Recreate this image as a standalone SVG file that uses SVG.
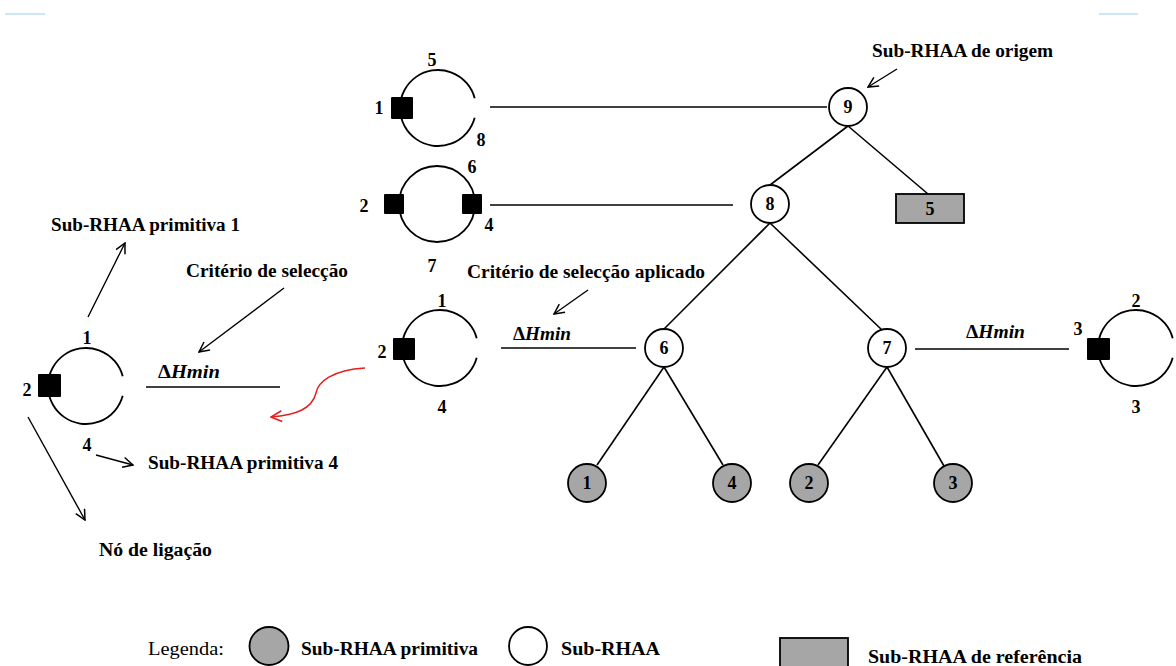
<svg xmlns="http://www.w3.org/2000/svg" width="1176" height="666" viewBox="0 0 1176 666">
  <style>
    .t { font-family: "Liberation Serif", "Times New Roman", serif; font-size: 18px; font-weight: bold; fill: #000; }
    .n { text-anchor: middle; }
    .reg { font-weight: normal; }
    .ln { stroke: #000; stroke-width: 1.6; fill: none; }
    .loop { stroke: #000; stroke-width: 1.8; fill: none; }
    .node { stroke: #000; stroke-width: 1.8; fill: #fff; }
    .prim { stroke: #000; stroke-width: 1.8; fill: #a6a6a6; }
    .port { fill: #000; }
    .arr { stroke: #000; stroke-width: 1.4; fill: none; marker-end: url(#open); }
  </style>
  <defs>
    <marker id="open" viewBox="0 0 12 12" refX="11" refY="6" markerWidth="12" markerHeight="12" markerUnits="userSpaceOnUse" orient="auto">
      <path d="M1,1 L11,6 L1,11" stroke="#000" stroke-width="1.5" fill="none"/>
    </marker>
    <marker id="openRed" viewBox="0 0 12 12" refX="11" refY="6" markerWidth="13" markerHeight="13" markerUnits="userSpaceOnUse" orient="auto">
      <path d="M1,1 L11,6 L1,11" stroke="#e32020" stroke-width="1.5" fill="none"/>
    </marker>
  </defs>

  <rect width="1176" height="666" fill="#fff"/>

  <!-- page marks -->
  <line x1="5" y1="14" x2="45" y2="14" stroke="#cde6f6" stroke-width="2"/>
  <line x1="1099" y1="14" x2="1138" y2="14" stroke="#cde6f6" stroke-width="2"/>

  <!-- connectors -->
  <g id="connectors">
    <line class="ln" x1="490" y1="107" x2="827" y2="107"/>
    <line class="ln" x1="490" y1="205" x2="733" y2="205"/>
    <line class="ln" x1="848" y1="126" x2="770" y2="185"/>
    <line class="ln" x1="848" y1="126" x2="928" y2="194"/>
    <line class="ln" x1="770" y1="223" x2="664" y2="329"/>
    <line class="ln" x1="770" y1="223" x2="882" y2="330"/>
    <line class="ln" x1="664" y1="367" x2="597" y2="465"/>
    <line class="ln" x1="664" y1="367" x2="723" y2="465"/>
    <line class="ln" x1="887" y1="367" x2="818" y2="465"/>
    <line class="ln" x1="887" y1="367" x2="944" y2="466"/>
    <line class="ln" x1="501" y1="348" x2="636" y2="348"/>
    <line class="ln" x1="915" y1="349" x2="1069" y2="349"/>
    <line class="ln" x1="146" y1="387" x2="280" y2="387"/>
    <!-- annotation arrows -->
    <line class="arr" x1="897" y1="69" x2="868" y2="87"/>
    <line class="arr" x1="588" y1="290" x2="554" y2="314"/>
    <line class="arr" x1="284" y1="288" x2="199" y2="352"/>
    <line class="arr" x1="88" y1="317" x2="125" y2="243"/>
    <line class="arr" x1="96" y1="455" x2="133" y2="465"/>
    <line class="arr" x1="28" y1="417" x2="85" y2="520"/>
    <path d="M365,368 C332,370 318,382 316,393 C312,409 296,415 271,417" stroke="#e32020" stroke-width="1.5" fill="none" marker-end="url(#openRed)"/>
  </g>

  <!-- loop with ports 1, 5, 8 -->
  <g id="loop-a">
    <path class="loop" d="M474.7,98.2 A38,38 0 1 0 474.7,117.8"/>
    <rect class="port" x="391" y="97" width="22" height="22" rx="1"/>
    <text class="t n" x="432" y="66">5</text>
    <text class="t n" x="379" y="114">1</text>
    <text class="t n" x="481" y="146">8</text>
  </g>

  <!-- loop with ports 2, 4, 6, 7 -->
  <g id="loop-b">
    <circle class="loop" cx="437" cy="204" r="38"/>
    <rect class="port" x="384" y="194" width="20" height="20" rx="1"/>
    <rect class="port" x="462" y="194" width="20" height="20" rx="1"/>
    <text class="t n" x="472" y="173">6</text>
    <text class="t n" x="364" y="212">2</text>
    <text class="t n" x="489" y="231">4</text>
    <text class="t n" x="432" y="272">7</text>
  </g>

  <!-- loop with ports 1, 2, 4 (selected) -->
  <g id="loop-c">
    <path class="loop" d="M476.7,338.2 A38,38 0 1 0 476.7,357.8"/>
    <rect class="port" x="393" y="338" width="22" height="22" rx="1"/>
    <text class="t n" x="442" y="307">1</text>
    <text class="t n" x="382" y="358">2</text>
    <text class="t n" x="442" y="413">4</text>
  </g>

  <!-- loop with ports 2, 3, 3 -->
  <g id="loop-d">
    <path class="loop" d="M1172.7,338.2 A38,38 0 1 0 1172.7,357.8"/>
    <rect class="port" x="1087" y="338" width="23" height="22" rx="1"/>
    <text class="t n" x="1136" y="307">2</text>
    <text class="t n" x="1078" y="335">3</text>
    <text class="t n" x="1136" y="413">3</text>
  </g>

  <!-- left loop: ports 1, 2, 4 -->
  <g id="loop-left">
    <path class="loop" d="M122.7,376.2 A38,38 0 1 0 122.7,395.8"/>
    <rect class="port" x="38" y="374" width="23" height="23" rx="1"/>
    <text class="t n" x="87" y="344">1</text>
    <text class="t n" x="27" y="396">2</text>
    <text class="t n" x="87" y="451">4</text>
  </g>

  <!-- tree nodes -->
  <g id="node-9"><circle class="node" cx="848" cy="107" r="19"/><text class="t n" x="848" y="113">9</text></g>
  <g id="node-8"><circle class="node" cx="770" cy="204" r="19"/><text class="t n" x="770" y="210">8</text></g>
  <g id="node-5"><rect class="prim" x="896" y="194" width="68" height="29" stroke-width="1.6"/><text class="t n" x="930" y="215">5</text></g>
  <g id="node-6"><circle class="node" cx="664" cy="348" r="19"/><text class="t n" x="664" y="354">6</text></g>
  <g id="node-7"><circle class="node" cx="887" cy="348" r="19"/><text class="t n" x="887" y="354">7</text></g>
  <g id="node-1"><circle class="prim" cx="587" cy="483" r="19"/><text class="t n" x="587" y="489">1</text></g>
  <g id="node-4"><circle class="prim" cx="732" cy="483" r="19"/><text class="t n" x="732" y="489">4</text></g>
  <g id="node-2"><circle class="prim" cx="809" cy="483" r="19"/><text class="t n" x="809" y="489">2</text></g>
  <g id="node-3"><circle class="prim" cx="953" cy="483" r="19"/><text class="t n" x="953" y="489">3</text></g>

  <!-- labels -->
  <g id="labels">
    <text class="t" x="872" y="57" textLength="181" lengthAdjust="spacingAndGlyphs">Sub-RHAA de origem</text>
    <text class="t" x="51" y="231" textLength="189" lengthAdjust="spacingAndGlyphs">Sub-RHAA primitiva 1</text>
    <text class="t" x="186" y="277" textLength="162" lengthAdjust="spacingAndGlyphs">Critério de selecção</text>
    <text class="t" x="467" y="278" textLength="238" lengthAdjust="spacingAndGlyphs">Critério de selecção aplicado</text>
    <text class="t" x="148" y="469" textLength="190" lengthAdjust="spacingAndGlyphs">Sub-RHAA primitiva 4</text>
    <text class="t" x="99" y="556" textLength="113" lengthAdjust="spacingAndGlyphs">Nó de ligação</text>
    <text class="t" x="158" y="378" textLength="62" lengthAdjust="spacingAndGlyphs">Δ<tspan font-style="italic">Hmin</tspan></text>
    <text class="t" x="513" y="340" textLength="58" lengthAdjust="spacingAndGlyphs">Δ<tspan font-style="italic">Hmin</tspan></text>
    <text class="t" x="966" y="338" textLength="59" lengthAdjust="spacingAndGlyphs">Δ<tspan font-style="italic">Hmin</tspan></text>
  </g>

  <!-- legend -->
  <g id="legend">
    <text class="t reg" x="148" y="655" textLength="76" lengthAdjust="spacingAndGlyphs">Legenda:</text>
    <ellipse class="prim" cx="269" cy="646" rx="19.5" ry="19"/>
    <text class="t" x="301" y="655" textLength="177" lengthAdjust="spacingAndGlyphs">Sub-RHAA primitiva</text>
    <ellipse class="node" cx="528" cy="646" rx="19" ry="19"/>
    <text class="t" x="561" y="655" textLength="99" lengthAdjust="spacingAndGlyphs">Sub-RHAA</text>
    <rect class="prim" x="780" y="638" width="68" height="34" stroke-width="1.6"/>
    <text class="t" x="868" y="663" textLength="214" lengthAdjust="spacingAndGlyphs">Sub-RHAA de referência</text>
  </g>
</svg>
